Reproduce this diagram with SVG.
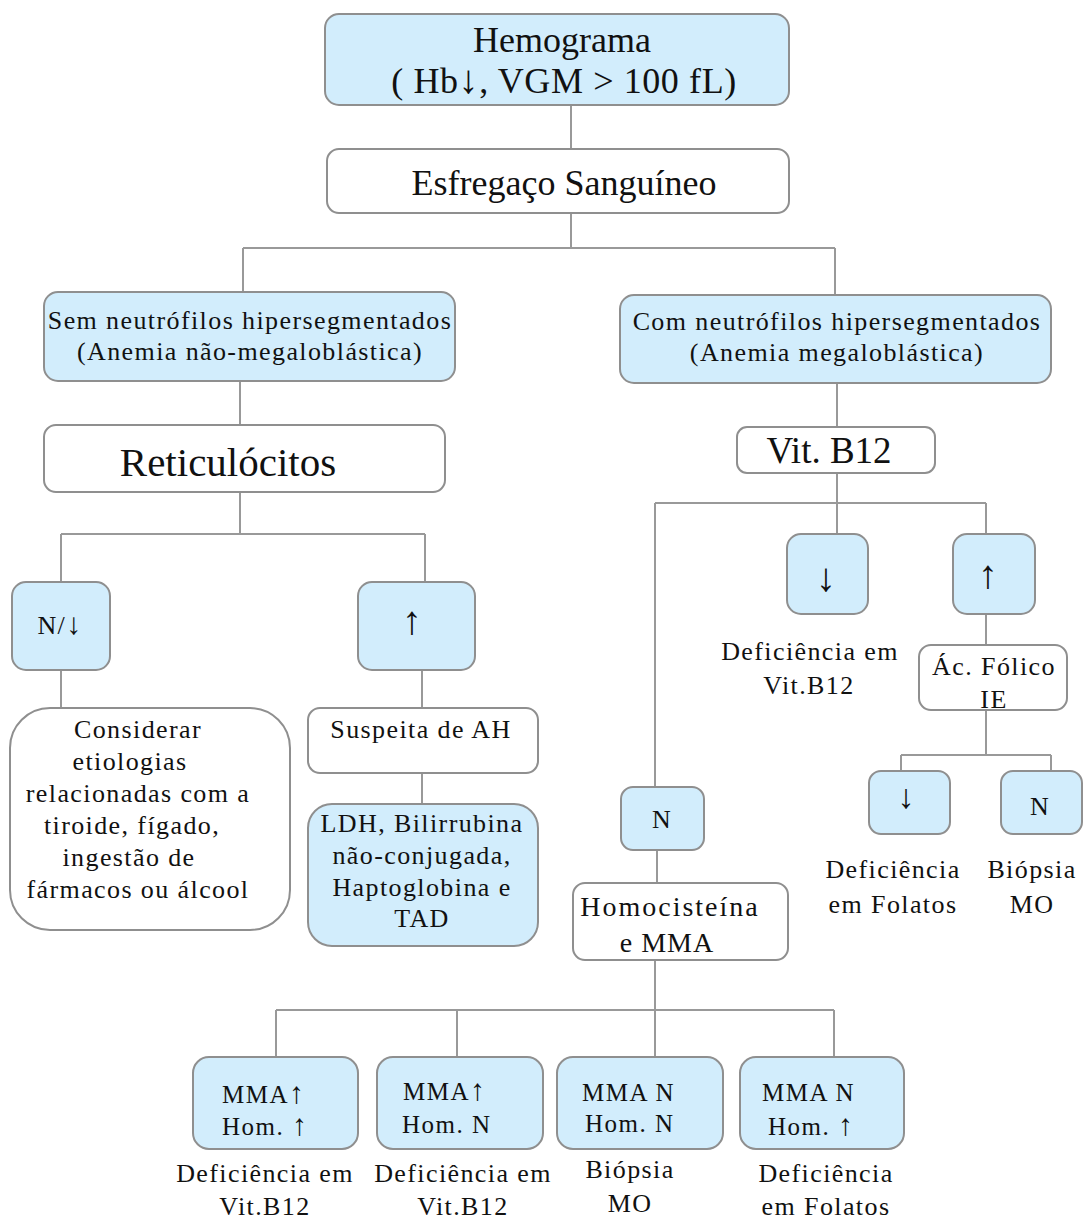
<svg xmlns="http://www.w3.org/2000/svg" width="1083" height="1221" viewBox="0 0 1083 1221">
<style>
.b{fill:#d2edfc;stroke:#8f8f8f;stroke-width:2}
.w{fill:#ffffff;stroke:#8f8f8f;stroke-width:2}
.c{fill:none;stroke:#999999;stroke-width:2}
text{font-family:"Liberation Serif","Times New Roman",serif;fill:#111;text-anchor:middle}
.t26{font-size:26px;letter-spacing:1.4px}
.t25{font-size:25px;letter-spacing:1.5px;text-anchor:start}
.t36{font-size:36px}
.ar{font-size:40px}
.ia{font-size:30px}
</style>
<rect width="1083" height="1221" fill="#ffffff"/>
<g id="connectors">
<path class="c" d="M571 95V149M571 213V248M243 248H835M243 248V293M835 248V296"/>
<path class="c" d="M240 381V425M240 492V534M61 534H425M61 534V582M425 534V582M61 670V708M422 670V708M422 773V804"/>
<path class="c" d="M837 383V427M837 473V503M655 503H986M655 503V787M837 503V535M986 503V535M986 614V645M986 710V755M901 755H1051M901 755V771M1051 755V771"/>
<path class="c" d="M657 850V883M655 960V1010M276 1010H834M276 1010V1057M457 1010V1057M655 1010V1057M834 1010V1057"/>
</g>
<g id="hemograma"><rect class="b" x="325" y="14" width="464" height="91" rx="14"/>
<text x="562" y="52" class="t36">Hemograma</text><text x="564" y="93" class="t36" style="letter-spacing:0.6px">( Hb<tspan style="font-size:40px">↓</tspan>, VGM &gt; 100 fL)</text></g>
<g id="esfregaco"><rect class="w" x="327" y="149" width="462" height="64" rx="12"/>
<text x="564" y="195" class="t36">Esfregaço Sanguíneo</text></g>
<g id="sem"><rect class="b" x="44" y="292" width="411" height="89" rx="14"/>
<text x="250" y="329" class="t26">Sem neutrófilos hipersegmentados</text><text x="250" y="360" class="t26">(Anemia não-megaloblástica)</text></g>
<g id="com"><rect class="b" x="620" y="295" width="431" height="88" rx="14"/>
<text x="837" y="330" class="t26">Com neutrófilos hipersegmentados</text><text x="837" y="361" class="t26">(Anemia megaloblástica)</text></g>
<g id="reticulocitos"><rect class="w" x="44" y="425" width="401" height="67" rx="12"/>
<text x="228" y="476" style="font-size:41px">Reticulócitos</text></g>
<g id="nbaixo"><rect class="b" x="12" y="582" width="98" height="88" rx="14"/>
<text x="60" y="634" class="t26">N/<tspan class="ia">↓</tspan></text></g>
<g id="alto"><rect class="b" x="358" y="582" width="117" height="88" rx="14"/>
<text x="412" y="634" class="ar">↑</text></g>
<g id="considerar"><rect class="w" x="10" y="708" width="280" height="222" rx="40"/>
<text x="138" y="738" class="t26">Considerar</text><text x="130" y="770" class="t26">etiologias</text>
<text x="138" y="802" class="t26">relacionadas com a</text><text x="132" y="834" class="t26">tiroide, fígado,</text>
<text x="129" y="866" class="t26">ingestão de</text><text x="138" y="898" class="t26">fármacos ou álcool</text></g>
<g id="suspeita"><rect class="w" x="308" y="708" width="230" height="65" rx="12"/>
<text x="421" y="738" class="t26">Suspeita de AH</text></g>
<g id="ldh"><rect class="b" x="308" y="804" width="230" height="142" rx="24"/>
<text x="422" y="832" class="t26">LDH, Bilirrubina</text><text x="422" y="864" class="t26">não-conjugada,</text>
<text x="422" y="896" class="t26">Haptoglobina e</text><text x="422" y="927" class="t26">TAD</text></g>
<g id="vitb12"><rect class="w" x="737" y="427" width="198" height="46" rx="10"/>
<text x="829" y="463" style="font-size:37px">Vit. B12</text></g>
<g id="b12baixo"><rect class="b" x="787" y="534" width="81" height="80" rx="14"/>
<text x="826" y="591" class="ar">↓</text>
<text x="810" y="660" class="t26">Deficiência em</text><text x="809" y="694" class="t26">Vit.B12</text></g>
<g id="b12alto"><rect class="b" x="953" y="534" width="82" height="80" rx="14"/>
<text x="988" y="588" class="ar">↑</text></g>
<g id="acfolico"><rect class="w" x="919" y="645" width="148" height="65" rx="12"/>
<text x="994" y="675" class="t26">Ác. Fólico</text><text x="994" y="708" class="t26">IE</text></g>
<g id="folbaixo"><rect class="b" x="869" y="771" width="81" height="63" rx="12"/>
<text x="906" y="808" style="font-size:34px">↓</text>
<text x="893" y="878" class="t26">Deficiência</text><text x="893" y="913" class="t26">em Folatos</text></g>
<g id="foln"><rect class="b" x="1001" y="771" width="81" height="63" rx="12"/>
<text x="1040" y="815" class="t26">N</text>
<text x="1032" y="878" class="t26">Biópsia</text><text x="1032" y="913" class="t26">MO</text></g>
<g id="b12n"><rect class="b" x="621" y="787" width="83" height="63" rx="12"/>
<text x="662" y="828" class="t26">N</text></g>
<g id="homocisteina"><rect class="w" x="573" y="883" width="215" height="77" rx="12"/>
<text x="670" y="916" style="font-size:28px;letter-spacing:2px">Homocisteína</text><text x="667" y="952" style="font-size:28px;letter-spacing:1px">e MMA</text></g>
<g id="r1"><rect class="b" x="193" y="1057" width="165" height="92" rx="16"/>
<text x="222" y="1103" class="t25">MMA<tspan class="ia">↑</tspan></text><text x="222" y="1135" class="t25">Hom. <tspan class="ia">↑</tspan></text>
<text x="265" y="1182" class="t26">Deficiência em</text><text x="265" y="1215" class="t26">Vit.B12</text></g>
<g id="r2"><rect class="b" x="377" y="1057" width="166" height="92" rx="16"/>
<text x="403" y="1100" class="t25">MMA<tspan class="ia">↑</tspan></text><text x="402" y="1133" class="t25">Hom. N</text>
<text x="463" y="1182" class="t26">Deficiência em</text><text x="463" y="1215" class="t26">Vit.B12</text></g>
<g id="r3"><rect class="b" x="557" y="1057" width="166" height="92" rx="16"/>
<text x="582" y="1101" class="t25">MMA N</text><text x="585" y="1132" class="t25">Hom. N</text>
<text x="630" y="1178" class="t26">Biópsia</text><text x="630" y="1212" class="t26">MO</text></g>
<g id="r4"><rect class="b" x="740" y="1057" width="164" height="92" rx="16"/>
<text x="762" y="1101" class="t25">MMA N</text><text x="768" y="1135" class="t25">Hom. <tspan class="ia">↑</tspan></text>
<text x="826" y="1182" class="t26">Deficiência</text><text x="826" y="1215" class="t26">em Folatos</text></g>
</svg>
